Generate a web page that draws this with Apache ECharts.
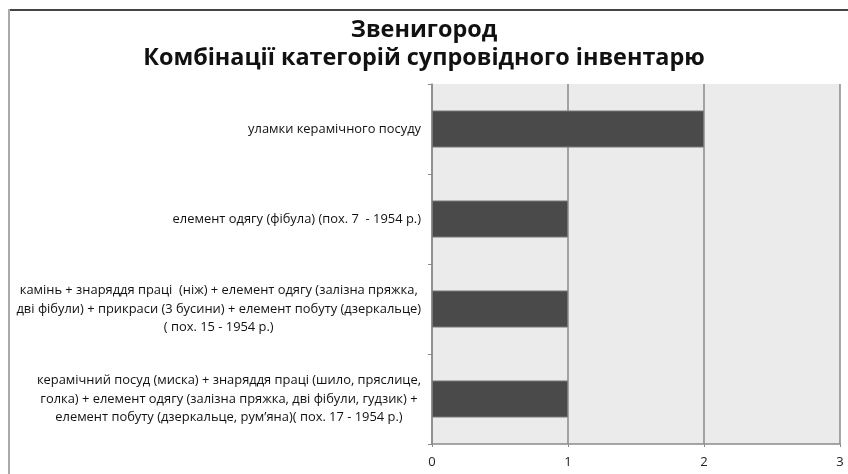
<!DOCTYPE html>
<html><head><meta charset="utf-8">
<script src="https://cdn.jsdelivr.net/npm/echarts@6/dist/echarts.min.js"></script>
<style>html,body{margin:0;padding:0;background:#fff}#c{width:848px;height:474px}</style>
</head><body><div id="c"></div>
<script>
const titleLines = ['Звенигород', 'Комбінації категорій супровідного інвентарю'];
const categories = [
  'уламки керамічного посуду',
  'елемент одягу (фібула) (пох. 7  - 1954 р.)',
  'камінь + знаряддя праці  (ніж) + елемент одягу (залізна пряжка,\nдві фібули) + прикраси (3 бусини) + елемент побуту (дзеркальце)\n( пох. 15 - 1954 р.)',
  'керамічний посуд (миска) + знаряддя праці (шило, пряслице,\nголка) + елемент одягу (залізна пряжка, дві фібули, гудзик) +\nелемент побуту (дзеркальце, рум’яна)( пох. 17 - 1954 р.)'
];
const values = [2, 1, 1, 1];
const xTicks = [0, 1, 2, 3];

const FONT = 'Open Sans';
const chart = echarts.init(document.getElementById('c'), null, {renderer: 'canvas'});
chart.setOption({
  backgroundColor: '#fff',
  animation: false,
  title: {
    text: titleLines.join('\n'),
    left: 'center', top: 11,
    textStyle: {fontFamily: FONT, fontWeight: 'bold', fontSize: 23.4, lineHeight: 28, color: '#111'}
  },
  grid: {left: 432, right: 8, top: 84, bottom: 30, outerBoundsMode: 'none', containLabel: false,
         show: true, backgroundColor: '#ebebeb', borderWidth: 0},
  xAxis: {
    type: 'value', min: xTicks[0], max: xTicks[xTicks.length - 1], interval: 1,
    axisLine: {show: true, lineStyle: {color: '#8a8a8a', width: 1.5}},
    axisTick: {show: true, length: 3, lineStyle: {color: '#8a8a8a'}},
    splitLine: {show: true, lineStyle: {color: '#8a8a8a', width: 1.5}},
    axisLabel: {fontFamily: FONT, fontSize: 13, color: '#222', margin: 12}
  },
  yAxis: {
    type: 'category', inverse: true, data: categories,
    axisLine: {show: true, lineStyle: {color: '#8a8a8a', width: 1.5}},
    axisTick: {show: true, length: 4, lineStyle: {color: '#8a8a8a'}},
    axisLabel: {
      margin: 11, align: 'right',
      fontFamily: FONT, fontSize: 12.9, color: '#111',
      formatter: v => v.split('\n').map(s => '{c|' + s + '}').join('\n'),
      rich: {c: {align: 'center', fontFamily: FONT, fontSize: 12.9, color: '#111', lineHeight: 18.5}}
    }
  },
  series: [{
    type: 'bar', data: values, barWidth: 37,
    itemStyle: {color: '#4a4a4a', borderColor: '#777', borderWidth: 1}
  }],
  graphic: [
    {type: 'line', shape: {x1: 9, y1: 10, x2: 848, y2: 10}, style: {stroke: '#444', lineWidth: 2}},
    {type: 'line', shape: {x1: 9, y1: 9, x2: 9, y2: 474}, style: {stroke: '#aaa', lineWidth: 2}}
  ]
});
</script></body></html>
